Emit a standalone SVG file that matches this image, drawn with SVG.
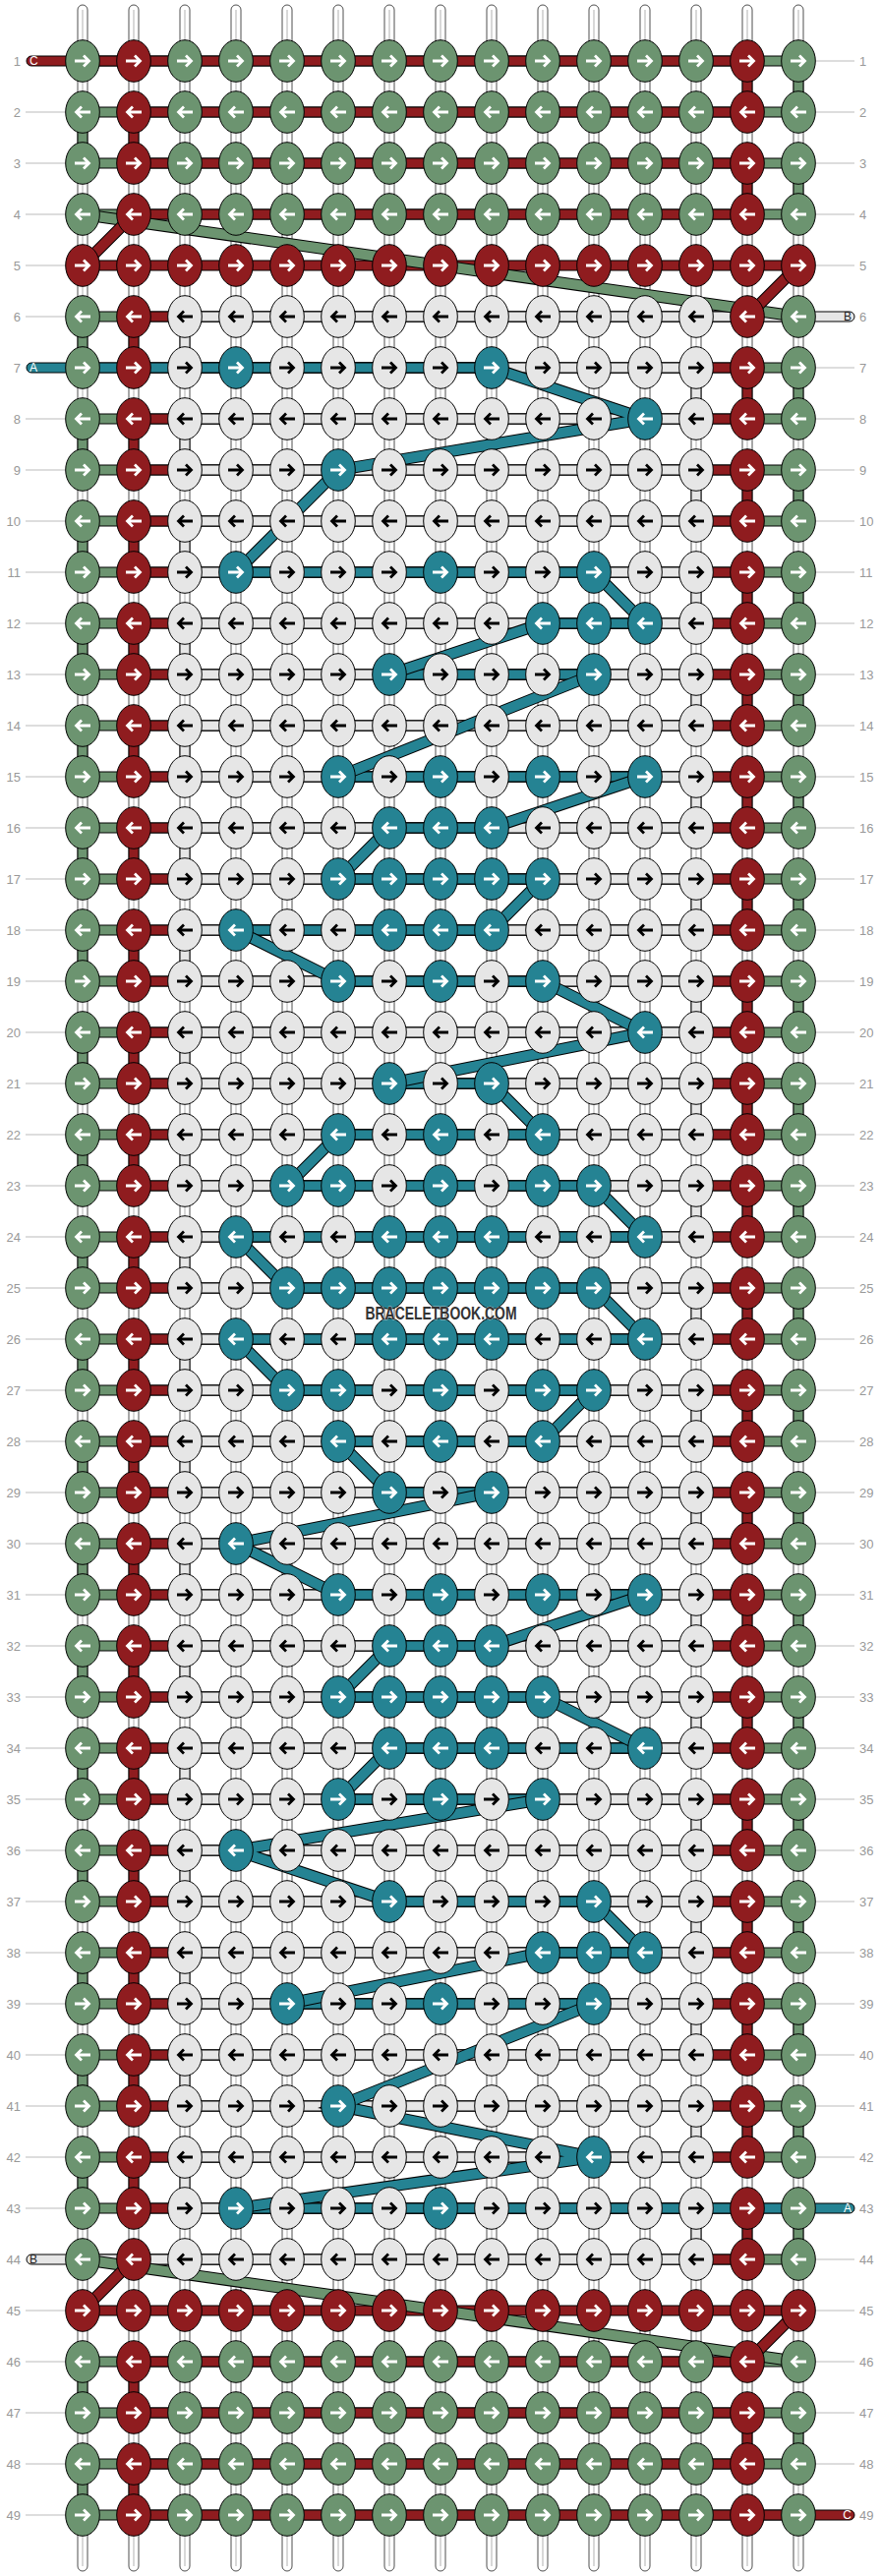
<svg xmlns="http://www.w3.org/2000/svg" width="896" height="2620" viewBox="0 0 896 2620">
<defs>
<style>
.tube{fill:#fff;stroke:#222;stroke-width:0.8}
.tl{fill:none;stroke:#c8c8c8;stroke-width:1.4}
.sg{fill:#6c9470;stroke:#000;stroke-width:1}
.sr{fill:#8f1c1f;stroke:#000;stroke-width:1}
.sw{fill:#e6e6e6;stroke:#000;stroke-width:1}
.st{fill:#258393;stroke:#000;stroke-width:1}
.dk{fill:none;stroke:#000;stroke-width:12;stroke-linecap:butt}
.dg{fill:none;stroke:#6c9470;stroke-width:10}
.dr{fill:none;stroke:#8f1c1f;stroke-width:10}
.dt{fill:none;stroke:#258393;stroke-width:10}
.ar{fill:none;stroke-width:2.8;stroke-linejoin:miter}
.num{font-family:"Liberation Sans",Arial,sans-serif;font-size:13px;fill:#999}
.nl{text-anchor:end}
.ln{fill:none;stroke:#bbb;stroke-width:1}
.tab{font-family:"Liberation Sans",Arial,sans-serif;font-size:12px}
</style>
<path id="aR" class="ar" d="M-8,0H6M1,-5.5L6.5,0L1,5.5"/>
<path id="aL" class="ar" d="M8,0H-6M-1,-5.5L-6.5,0L-1,5.5"/>
<g id="gr"><ellipse rx="17.3" ry="21.3" fill="#6c9470" stroke="#000"/><use href="#aR" stroke="#fff"/></g>
<g id="gl"><ellipse rx="17.3" ry="21.3" fill="#6c9470" stroke="#000"/><use href="#aL" stroke="#fff"/></g>
<g id="rr"><ellipse rx="17.3" ry="21.3" fill="#8f1c1f" stroke="#000"/><use href="#aR" stroke="#fff"/></g>
<g id="rl"><ellipse rx="17.3" ry="21.3" fill="#8f1c1f" stroke="#000"/><use href="#aL" stroke="#fff"/></g>
<g id="wr"><ellipse rx="17.3" ry="21.3" fill="#e6e6e6" stroke="#000"/><use href="#aR" stroke="#000"/></g>
<g id="wl"><ellipse rx="17.3" ry="21.3" fill="#e6e6e6" stroke="#000"/><use href="#aL" stroke="#000"/></g>
<g id="tr"><ellipse rx="17.3" ry="21.3" fill="#258393" stroke="#000"/><use href="#aR" stroke="#fff"/></g>
<g id="tl"><ellipse rx="17.3" ry="21.3" fill="#258393" stroke="#000"/><use href="#aL" stroke="#fff"/></g>
</defs>
<rect width="896" height="2620" fill="#fff"/>
<g id="row-labels">
<path class="ln" d="M26,114H66M26,166H66M26,218H66M26,270H66M26,322H66M26,426H66M26,478H66M26,530H66M26,582H66M26,634H66M26,686H66M26,738H66M26,790H66M26,842H66M26,894H66M26,946H66M26,998H66M26,1050H66M26,1102H66M26,1154H66M26,1206H66M26,1258H66M26,1310H66M26,1362H66M26,1414H66M26,1466H66M26,1518H66M26,1570H66M26,1622H66M26,1674H66M26,1726H66M26,1778H66M26,1830H66M26,1882H66M26,1934H66M26,1986H66M26,2038H66M26,2090H66M26,2142H66M26,2194H66M26,2246H66M26,2350H66M26,2402H66M26,2454H66M26,2506H66M26,2558H66"/>
<path class="ln" d="M830,62H869M830,114H869M830,166H869M830,218H869M830,270H869M830,374H869M830,426H869M830,478H869M830,530H869M830,582H869M830,634H869M830,686H869M830,738H869M830,790H869M830,842H869M830,894H869M830,946H869M830,998H869M830,1050H869M830,1102H869M830,1154H869M830,1206H869M830,1258H869M830,1310H869M830,1362H869M830,1414H869M830,1466H869M830,1518H869M830,1570H869M830,1622H869M830,1674H869M830,1726H869M830,1778H869M830,1830H869M830,1882H869M830,1934H869M830,1986H869M830,2038H869M830,2090H869M830,2142H869M830,2194H869M830,2298H869M830,2350H869M830,2402H869M830,2454H869M830,2506H869"/>
<g class="num nl">
<text x="21" y="67">1</text><text x="21" y="119">2</text><text x="21" y="171">3</text><text x="21" y="223">4</text><text x="21" y="275">5</text><text x="21" y="327">6</text><text x="21" y="379">7</text><text x="21" y="431">8</text><text x="21" y="483">9</text><text x="21" y="535">10</text><text x="21" y="587">11</text><text x="21" y="639">12</text><text x="21" y="691">13</text><text x="21" y="743">14</text><text x="21" y="795">15</text><text x="21" y="847">16</text><text x="21" y="899">17</text><text x="21" y="951">18</text><text x="21" y="1003">19</text><text x="21" y="1055">20</text><text x="21" y="1107">21</text><text x="21" y="1159">22</text><text x="21" y="1211">23</text><text x="21" y="1263">24</text><text x="21" y="1315">25</text><text x="21" y="1367">26</text><text x="21" y="1419">27</text><text x="21" y="1471">28</text><text x="21" y="1523">29</text><text x="21" y="1575">30</text><text x="21" y="1627">31</text><text x="21" y="1679">32</text><text x="21" y="1731">33</text><text x="21" y="1783">34</text><text x="21" y="1835">35</text><text x="21" y="1887">36</text><text x="21" y="1939">37</text><text x="21" y="1991">38</text><text x="21" y="2043">39</text><text x="21" y="2095">40</text><text x="21" y="2147">41</text><text x="21" y="2199">42</text><text x="21" y="2251">43</text><text x="21" y="2303">44</text><text x="21" y="2355">45</text><text x="21" y="2407">46</text><text x="21" y="2459">47</text><text x="21" y="2511">48</text><text x="21" y="2563">49</text>
</g>
<g class="num">
<text x="874" y="67">1</text><text x="874" y="119">2</text><text x="874" y="171">3</text><text x="874" y="223">4</text><text x="874" y="275">5</text><text x="874" y="327">6</text><text x="874" y="379">7</text><text x="874" y="431">8</text><text x="874" y="483">9</text><text x="874" y="535">10</text><text x="874" y="587">11</text><text x="874" y="639">12</text><text x="874" y="691">13</text><text x="874" y="743">14</text><text x="874" y="795">15</text><text x="874" y="847">16</text><text x="874" y="899">17</text><text x="874" y="951">18</text><text x="874" y="1003">19</text><text x="874" y="1055">20</text><text x="874" y="1107">21</text><text x="874" y="1159">22</text><text x="874" y="1211">23</text><text x="874" y="1263">24</text><text x="874" y="1315">25</text><text x="874" y="1367">26</text><text x="874" y="1419">27</text><text x="874" y="1471">28</text><text x="874" y="1523">29</text><text x="874" y="1575">30</text><text x="874" y="1627">31</text><text x="874" y="1679">32</text><text x="874" y="1731">33</text><text x="874" y="1783">34</text><text x="874" y="1835">35</text><text x="874" y="1887">36</text><text x="874" y="1939">37</text><text x="874" y="1991">38</text><text x="874" y="2043">39</text><text x="874" y="2095">40</text><text x="874" y="2147">41</text><text x="874" y="2199">42</text><text x="874" y="2251">43</text><text x="874" y="2303">44</text><text x="874" y="2355">45</text><text x="874" y="2407">46</text><text x="874" y="2459">47</text><text x="874" y="2511">48</text><text x="874" y="2563">49</text>
</g>
</g>
<g id="connectors">
<g id="base-strings">
<rect class="tube" x="79" y="5" width="10" height="2610" rx="5"/><rect class="tube" x="131" y="5" width="10" height="2610" rx="5"/><rect class="tube" x="183" y="5" width="10" height="2610" rx="5"/><rect class="tube" x="235" y="5" width="10" height="2610" rx="5"/><rect class="tube" x="287" y="5" width="10" height="2610" rx="5"/><rect class="tube" x="339" y="5" width="10" height="2610" rx="5"/><rect class="tube" x="391" y="5" width="10" height="2610" rx="5"/><rect class="tube" x="443" y="5" width="10" height="2610" rx="5"/><rect class="tube" x="495" y="5" width="10" height="2610" rx="5"/><rect class="tube" x="547" y="5" width="10" height="2610" rx="5"/><rect class="tube" x="599" y="5" width="10" height="2610" rx="5"/><rect class="tube" x="651" y="5" width="10" height="2610" rx="5"/><rect class="tube" x="703" y="5" width="10" height="2610" rx="5"/><rect class="tube" x="755" y="5" width="10" height="2610" rx="5"/><rect class="tube" x="807" y="5" width="10" height="2610" rx="5"/>
<path class="tl" d="M84,10V2610M136,10V2610M188,10V2610M240,10V2610M292,10V2610M344,10V2610M396,10V2610M448,10V2610M500,10V2610M552,10V2610M604,10V2610M656,10V2610M708,10V2610M760,10V2610M812,10V2610"/>
</g>
<g id="green-string">
<path class="sg" d="M84,57h728v10h-728zM84,109h728v10h-728zM84,161h728v10h-728zM84,213h728v10h-728zM84,317h728v10h-728zM84,369h728v10h-728zM84,421h728v10h-728zM84,473h728v10h-728zM84,525h728v10h-728zM84,577h728v10h-728zM84,629h728v10h-728zM84,681h728v10h-728zM84,733h728v10h-728zM84,785h728v10h-728zM84,837h728v10h-728zM84,889h728v10h-728zM84,941h728v10h-728zM84,993h728v10h-728zM84,1045h728v10h-728zM84,1097h728v10h-728zM84,1149h728v10h-728zM84,1201h728v10h-728zM84,1253h728v10h-728zM84,1305h728v10h-728zM84,1357h728v10h-728zM84,1409h728v10h-728zM84,1461h728v10h-728zM84,1513h728v10h-728zM84,1565h728v10h-728zM84,1617h728v10h-728zM84,1669h728v10h-728zM84,1721h728v10h-728zM84,1773h728v10h-728zM84,1825h728v10h-728zM84,1877h728v10h-728zM84,1929h728v10h-728zM84,1981h728v10h-728zM84,2033h728v10h-728zM84,2085h728v10h-728zM84,2137h728v10h-728zM84,2189h728v10h-728zM84,2241h728v10h-728zM84,2293h728v10h-728zM84,2397h728v10h-728zM84,2449h728v10h-728zM84,2501h728v10h-728zM84,2553h728v10h-728z"/>
<path class="sg" d="M79,114h10v52h-10zM79,322h10v52h-10zM79,426h10v52h-10zM79,530h10v52h-10zM79,634h10v52h-10zM79,738h10v52h-10zM79,842h10v52h-10zM79,946h10v52h-10zM79,1050h10v52h-10zM79,1154h10v52h-10zM79,1258h10v52h-10zM79,1362h10v52h-10zM79,1466h10v52h-10zM79,1570h10v52h-10zM79,1674h10v52h-10zM79,1778h10v52h-10zM79,1882h10v52h-10zM79,1986h10v52h-10zM79,2090h10v52h-10zM79,2194h10v52h-10zM79,2402h10v52h-10zM79,2506h10v52h-10z"/>
<path class="sg" d="M807,62h10v52h-10zM807,166h10v52h-10zM807,374h10v52h-10zM807,478h10v52h-10zM807,582h10v52h-10zM807,686h10v52h-10zM807,790h10v52h-10zM807,894h10v52h-10zM807,998h10v52h-10zM807,1102h10v52h-10zM807,1206h10v52h-10zM807,1310h10v52h-10zM807,1414h10v52h-10zM807,1518h10v52h-10zM807,1622h10v52h-10zM807,1726h10v52h-10zM807,1830h10v52h-10zM807,1934h10v52h-10zM807,2038h10v52h-10zM807,2142h10v52h-10zM807,2246h10v52h-10zM807,2454h10v52h-10z"/>
</g>
<g id="red-string">
<rect class="sr" x="27" y="57" width="733" height="10" rx="5"/>
<rect class="sr" x="136" y="2553" width="733" height="10" rx="5"/>
<path class="sr" d="M136,109h624v10h-624zM136,161h624v10h-624zM136,213h624v10h-624zM84,265h728v10h-728zM136,317h624v10h-624zM136,369h624v10h-624zM136,421h624v10h-624zM136,473h624v10h-624zM136,525h624v10h-624zM136,577h624v10h-624zM136,629h624v10h-624zM136,681h624v10h-624zM136,733h624v10h-624zM136,785h624v10h-624zM136,837h624v10h-624zM136,889h624v10h-624zM136,941h624v10h-624zM136,993h624v10h-624zM136,1045h624v10h-624zM136,1097h624v10h-624zM136,1149h624v10h-624zM136,1201h624v10h-624zM136,1253h624v10h-624zM136,1305h624v10h-624zM136,1357h624v10h-624zM136,1409h624v10h-624zM136,1461h624v10h-624zM136,1513h624v10h-624zM136,1565h624v10h-624zM136,1617h624v10h-624zM136,1669h624v10h-624zM136,1721h624v10h-624zM136,1773h624v10h-624zM136,1825h624v10h-624zM136,1877h624v10h-624zM136,1929h624v10h-624zM136,1981h624v10h-624zM136,2033h624v10h-624zM136,2085h624v10h-624zM136,2137h624v10h-624zM136,2189h624v10h-624zM136,2241h624v10h-624zM136,2293h624v10h-624zM84,2345h728v10h-728zM136,2397h624v10h-624zM136,2449h624v10h-624zM136,2501h624v10h-624z"/>
<path class="sr" d="M131,114h10v52h-10zM131,322h10v52h-10zM131,426h10v52h-10zM131,530h10v52h-10zM131,634h10v52h-10zM131,738h10v52h-10zM131,842h10v52h-10zM131,946h10v52h-10zM131,1050h10v52h-10zM131,1154h10v52h-10zM131,1258h10v52h-10zM131,1362h10v52h-10zM131,1466h10v52h-10zM131,1570h10v52h-10zM131,1674h10v52h-10zM131,1778h10v52h-10zM131,1882h10v52h-10zM131,1986h10v52h-10zM131,2090h10v52h-10zM131,2194h10v52h-10zM131,2402h10v52h-10zM131,2506h10v52h-10z"/>
<path class="sr" d="M755,62h10v52h-10zM755,166h10v52h-10zM755,374h10v52h-10zM755,478h10v52h-10zM755,582h10v52h-10zM755,686h10v52h-10zM755,790h10v52h-10zM755,894h10v52h-10zM755,998h10v52h-10zM755,1102h10v52h-10zM755,1206h10v52h-10zM755,1310h10v52h-10zM755,1414h10v52h-10zM755,1518h10v52h-10zM755,1622h10v52h-10zM755,1726h10v52h-10zM755,1830h10v52h-10zM755,1934h10v52h-10zM755,2038h10v52h-10zM755,2142h10v52h-10zM755,2246h10v52h-10zM755,2454h10v52h-10z"/>
</g>
<g id="string-B">
<rect class="sw" x="188" y="317" width="681" height="10" rx="5"/>
<rect class="sw" x="27" y="2293" width="681" height="10" rx="5"/>
<path class="sw" d="M188,369h520v10h-520zM188,421h520v10h-520zM188,473h520v10h-520zM188,525h520v10h-520zM188,577h520v10h-520zM188,629h520v10h-520zM188,681h520v10h-520zM188,733h520v10h-520zM188,785h520v10h-520zM188,837h520v10h-520zM188,889h520v10h-520zM188,941h520v10h-520zM188,993h520v10h-520zM188,1045h520v10h-520zM188,1097h520v10h-520zM188,1149h520v10h-520zM188,1201h520v10h-520zM188,1253h520v10h-520zM188,1305h520v10h-520zM188,1357h520v10h-520zM188,1409h520v10h-520zM188,1461h520v10h-520zM188,1513h520v10h-520zM188,1565h520v10h-520zM188,1617h520v10h-520zM188,1669h520v10h-520zM188,1721h520v10h-520zM188,1773h520v10h-520zM188,1825h520v10h-520zM188,1877h520v10h-520zM188,1929h520v10h-520zM188,1981h520v10h-520zM188,2033h520v10h-520zM188,2085h520v10h-520zM188,2137h520v10h-520zM188,2189h520v10h-520zM188,2241h520v10h-520z"/>
<path class="sw" d="M183,322h10v52h-10zM183,426h10v52h-10zM183,530h10v52h-10zM183,634h10v52h-10zM183,738h10v52h-10zM183,842h10v52h-10zM183,946h10v52h-10zM183,1050h10v52h-10zM183,1154h10v52h-10zM183,1258h10v52h-10zM183,1362h10v52h-10zM183,1466h10v52h-10zM183,1570h10v52h-10zM183,1674h10v52h-10zM183,1778h10v52h-10zM183,1882h10v52h-10zM183,1986h10v52h-10zM183,2090h10v52h-10zM183,2194h10v52h-10z"/>
<path class="sw" d="M703,374h10v52h-10zM703,478h10v52h-10zM703,582h10v52h-10zM703,686h10v52h-10zM703,790h10v52h-10zM703,894h10v52h-10zM703,998h10v52h-10zM703,1102h10v52h-10zM703,1206h10v52h-10zM703,1310h10v52h-10zM703,1414h10v52h-10zM703,1518h10v52h-10zM703,1622h10v52h-10zM703,1726h10v52h-10zM703,1830h10v52h-10zM703,1934h10v52h-10zM703,2038h10v52h-10zM703,2142h10v52h-10zM703,2246h10v52h-10z"/>
</g>
<g id="string-A">
<rect class="st" x="27" y="369" width="473" height="10" rx="5"/>
<rect class="st" x="240" y="2241" width="629" height="10" rx="5"/>
<path class="st" d="M240,577h364v10h-364zM552,629h104v10h-104zM396,681h208v10h-208zM344,785h312v10h-312zM396,837h104v10h-104zM344,889h208v10h-208zM240,941h260v10h-260zM344,993h208v10h-208zM396,1097h104v10h-104zM344,1149h208v10h-208zM292,1201h312v10h-312zM240,1253h416v10h-416zM292,1305h312v10h-312zM240,1357h416v10h-416zM292,1409h312v10h-312zM344,1461h208v10h-208zM396,1513h104v10h-104zM344,1617h312v10h-312zM396,1669h104v10h-104zM344,1721h208v10h-208zM396,1773h260v10h-260zM344,1825h208v10h-208zM396,1929h208v10h-208zM552,1981h104v10h-104zM292,2033h312v10h-312z"/>
</g>
<g id="diagonals">
<path class="dk" d="M84,218L812,322M84,2298L812,2402"/>
<path class="dg" d="M84,218L812,322M84,2298L812,2402"/>
<path class="dk" d="M136,218L84,270M812,270L760,322M136,2298L84,2350M812,2350L760,2402"/>
<path class="dr" d="M136,218L84,270M812,270L760,322M136,2298L84,2350M812,2350L760,2402"/>
<path class="dk" d="M500,374L656,426L344,478L240,582M604,582L656,634M552,634L396,686M604,686L344,790M656,790L500,842M396,842L344,894M552,894L500,946M240,946L344,998M552,998L656,1050L396,1102M500,1102L552,1154M344,1154L292,1206M604,1206L656,1258M240,1258L292,1310M604,1310L656,1362M240,1362L292,1414M604,1414L552,1466M344,1466L396,1518M500,1518L240,1570L344,1622M656,1622L500,1674M396,1674L344,1726M552,1726L656,1778M396,1778L344,1830M552,1830L240,1882L396,1934M604,1934L656,1986M552,1986L292,2038M604,2038L344,2142L604,2194L240,2246"/>
<path class="dt" d="M500,374L656,426L344,478L240,582M604,582L656,634M552,634L396,686M604,686L344,790M656,790L500,842M396,842L344,894M552,894L500,946M240,946L344,998M552,998L656,1050L396,1102M500,1102L552,1154M344,1154L292,1206M604,1206L656,1258M240,1258L292,1310M604,1310L656,1362M240,1362L292,1414M604,1414L552,1466M344,1466L396,1518M500,1518L240,1570L344,1622M656,1622L500,1674M396,1674L344,1726M552,1726L656,1778M396,1778L344,1830M552,1830L240,1882L396,1934M604,1934L656,1986M552,1986L292,2038M604,2038L344,2142L604,2194L240,2246"/>
</g>
</g>
<g id="knots">
<g id="row1" transform="translate(0,62)"><use href="#gr" x="84"/><use href="#rr" x="136"/><use href="#gr" x="188"/><use href="#gr" x="240"/><use href="#gr" x="292"/><use href="#gr" x="344"/><use href="#gr" x="396"/><use href="#gr" x="448"/><use href="#gr" x="500"/><use href="#gr" x="552"/><use href="#gr" x="604"/><use href="#gr" x="656"/><use href="#gr" x="708"/><use href="#rr" x="760"/><use href="#gr" x="812"/></g>
<g id="row2" transform="translate(0,114)"><use href="#gl" x="84"/><use href="#rl" x="136"/><use href="#gl" x="188"/><use href="#gl" x="240"/><use href="#gl" x="292"/><use href="#gl" x="344"/><use href="#gl" x="396"/><use href="#gl" x="448"/><use href="#gl" x="500"/><use href="#gl" x="552"/><use href="#gl" x="604"/><use href="#gl" x="656"/><use href="#gl" x="708"/><use href="#rl" x="760"/><use href="#gl" x="812"/></g>
<g id="row3" transform="translate(0,166)"><use href="#gr" x="84"/><use href="#rr" x="136"/><use href="#gr" x="188"/><use href="#gr" x="240"/><use href="#gr" x="292"/><use href="#gr" x="344"/><use href="#gr" x="396"/><use href="#gr" x="448"/><use href="#gr" x="500"/><use href="#gr" x="552"/><use href="#gr" x="604"/><use href="#gr" x="656"/><use href="#gr" x="708"/><use href="#rr" x="760"/><use href="#gr" x="812"/></g>
<g id="row4" transform="translate(0,218)"><use href="#gl" x="84"/><use href="#rl" x="136"/><use href="#gl" x="188"/><use href="#gl" x="240"/><use href="#gl" x="292"/><use href="#gl" x="344"/><use href="#gl" x="396"/><use href="#gl" x="448"/><use href="#gl" x="500"/><use href="#gl" x="552"/><use href="#gl" x="604"/><use href="#gl" x="656"/><use href="#gl" x="708"/><use href="#rl" x="760"/><use href="#gl" x="812"/></g>
<g id="row5" transform="translate(0,270)"><use href="#rr" x="84"/><use href="#rr" x="136"/><use href="#rr" x="188"/><use href="#rr" x="240"/><use href="#rr" x="292"/><use href="#rr" x="344"/><use href="#rr" x="396"/><use href="#rr" x="448"/><use href="#rr" x="500"/><use href="#rr" x="552"/><use href="#rr" x="604"/><use href="#rr" x="656"/><use href="#rr" x="708"/><use href="#rr" x="760"/><use href="#rr" x="812"/></g>
<g id="row6" transform="translate(0,322)"><use href="#gl" x="84"/><use href="#rl" x="136"/><use href="#wl" x="188"/><use href="#wl" x="240"/><use href="#wl" x="292"/><use href="#wl" x="344"/><use href="#wl" x="396"/><use href="#wl" x="448"/><use href="#wl" x="500"/><use href="#wl" x="552"/><use href="#wl" x="604"/><use href="#wl" x="656"/><use href="#wl" x="708"/><use href="#rl" x="760"/><use href="#gl" x="812"/></g>
<g id="row7" transform="translate(0,374)"><use href="#gr" x="84"/><use href="#rr" x="136"/><use href="#wr" x="188"/><use href="#tr" x="240"/><use href="#wr" x="292"/><use href="#wr" x="344"/><use href="#wr" x="396"/><use href="#wr" x="448"/><use href="#tr" x="500"/><use href="#wr" x="552"/><use href="#wr" x="604"/><use href="#wr" x="656"/><use href="#wr" x="708"/><use href="#rr" x="760"/><use href="#gr" x="812"/></g>
<g id="row8" transform="translate(0,426)"><use href="#gl" x="84"/><use href="#rl" x="136"/><use href="#wl" x="188"/><use href="#wl" x="240"/><use href="#wl" x="292"/><use href="#wl" x="344"/><use href="#wl" x="396"/><use href="#wl" x="448"/><use href="#wl" x="500"/><use href="#wl" x="552"/><use href="#wl" x="604"/><use href="#tl" x="656"/><use href="#wl" x="708"/><use href="#rl" x="760"/><use href="#gl" x="812"/></g>
<g id="row9" transform="translate(0,478)"><use href="#gr" x="84"/><use href="#rr" x="136"/><use href="#wr" x="188"/><use href="#wr" x="240"/><use href="#wr" x="292"/><use href="#tr" x="344"/><use href="#wr" x="396"/><use href="#wr" x="448"/><use href="#wr" x="500"/><use href="#wr" x="552"/><use href="#wr" x="604"/><use href="#wr" x="656"/><use href="#wr" x="708"/><use href="#rr" x="760"/><use href="#gr" x="812"/></g>
<g id="row10" transform="translate(0,530)"><use href="#gl" x="84"/><use href="#rl" x="136"/><use href="#wl" x="188"/><use href="#wl" x="240"/><use href="#wl" x="292"/><use href="#wl" x="344"/><use href="#wl" x="396"/><use href="#wl" x="448"/><use href="#wl" x="500"/><use href="#wl" x="552"/><use href="#wl" x="604"/><use href="#wl" x="656"/><use href="#wl" x="708"/><use href="#rl" x="760"/><use href="#gl" x="812"/></g>
<g id="row11" transform="translate(0,582)"><use href="#gr" x="84"/><use href="#rr" x="136"/><use href="#wr" x="188"/><use href="#tr" x="240"/><use href="#wr" x="292"/><use href="#wr" x="344"/><use href="#wr" x="396"/><use href="#tr" x="448"/><use href="#wr" x="500"/><use href="#wr" x="552"/><use href="#tr" x="604"/><use href="#wr" x="656"/><use href="#wr" x="708"/><use href="#rr" x="760"/><use href="#gr" x="812"/></g>
<g id="row12" transform="translate(0,634)"><use href="#gl" x="84"/><use href="#rl" x="136"/><use href="#wl" x="188"/><use href="#wl" x="240"/><use href="#wl" x="292"/><use href="#wl" x="344"/><use href="#wl" x="396"/><use href="#wl" x="448"/><use href="#wl" x="500"/><use href="#tl" x="552"/><use href="#tl" x="604"/><use href="#tl" x="656"/><use href="#wl" x="708"/><use href="#rl" x="760"/><use href="#gl" x="812"/></g>
<g id="row13" transform="translate(0,686)"><use href="#gr" x="84"/><use href="#rr" x="136"/><use href="#wr" x="188"/><use href="#wr" x="240"/><use href="#wr" x="292"/><use href="#wr" x="344"/><use href="#tr" x="396"/><use href="#wr" x="448"/><use href="#wr" x="500"/><use href="#wr" x="552"/><use href="#tr" x="604"/><use href="#wr" x="656"/><use href="#wr" x="708"/><use href="#rr" x="760"/><use href="#gr" x="812"/></g>
<g id="row14" transform="translate(0,738)"><use href="#gl" x="84"/><use href="#rl" x="136"/><use href="#wl" x="188"/><use href="#wl" x="240"/><use href="#wl" x="292"/><use href="#wl" x="344"/><use href="#wl" x="396"/><use href="#wl" x="448"/><use href="#wl" x="500"/><use href="#wl" x="552"/><use href="#wl" x="604"/><use href="#wl" x="656"/><use href="#wl" x="708"/><use href="#rl" x="760"/><use href="#gl" x="812"/></g>
<g id="row15" transform="translate(0,790)"><use href="#gr" x="84"/><use href="#rr" x="136"/><use href="#wr" x="188"/><use href="#wr" x="240"/><use href="#wr" x="292"/><use href="#tr" x="344"/><use href="#wr" x="396"/><use href="#tr" x="448"/><use href="#wr" x="500"/><use href="#tr" x="552"/><use href="#wr" x="604"/><use href="#tr" x="656"/><use href="#wr" x="708"/><use href="#rr" x="760"/><use href="#gr" x="812"/></g>
<g id="row16" transform="translate(0,842)"><use href="#gl" x="84"/><use href="#rl" x="136"/><use href="#wl" x="188"/><use href="#wl" x="240"/><use href="#wl" x="292"/><use href="#wl" x="344"/><use href="#tl" x="396"/><use href="#tl" x="448"/><use href="#tl" x="500"/><use href="#wl" x="552"/><use href="#wl" x="604"/><use href="#wl" x="656"/><use href="#wl" x="708"/><use href="#rl" x="760"/><use href="#gl" x="812"/></g>
<g id="row17" transform="translate(0,894)"><use href="#gr" x="84"/><use href="#rr" x="136"/><use href="#wr" x="188"/><use href="#wr" x="240"/><use href="#wr" x="292"/><use href="#tr" x="344"/><use href="#tr" x="396"/><use href="#tr" x="448"/><use href="#tr" x="500"/><use href="#tr" x="552"/><use href="#wr" x="604"/><use href="#wr" x="656"/><use href="#wr" x="708"/><use href="#rr" x="760"/><use href="#gr" x="812"/></g>
<g id="row18" transform="translate(0,946)"><use href="#gl" x="84"/><use href="#rl" x="136"/><use href="#wl" x="188"/><use href="#tl" x="240"/><use href="#wl" x="292"/><use href="#wl" x="344"/><use href="#tl" x="396"/><use href="#tl" x="448"/><use href="#tl" x="500"/><use href="#wl" x="552"/><use href="#wl" x="604"/><use href="#wl" x="656"/><use href="#wl" x="708"/><use href="#rl" x="760"/><use href="#gl" x="812"/></g>
<g id="row19" transform="translate(0,998)"><use href="#gr" x="84"/><use href="#rr" x="136"/><use href="#wr" x="188"/><use href="#wr" x="240"/><use href="#wr" x="292"/><use href="#tr" x="344"/><use href="#wr" x="396"/><use href="#tr" x="448"/><use href="#wr" x="500"/><use href="#tr" x="552"/><use href="#wr" x="604"/><use href="#wr" x="656"/><use href="#wr" x="708"/><use href="#rr" x="760"/><use href="#gr" x="812"/></g>
<g id="row20" transform="translate(0,1050)"><use href="#gl" x="84"/><use href="#rl" x="136"/><use href="#wl" x="188"/><use href="#wl" x="240"/><use href="#wl" x="292"/><use href="#wl" x="344"/><use href="#wl" x="396"/><use href="#wl" x="448"/><use href="#wl" x="500"/><use href="#wl" x="552"/><use href="#wl" x="604"/><use href="#tl" x="656"/><use href="#wl" x="708"/><use href="#rl" x="760"/><use href="#gl" x="812"/></g>
<g id="row21" transform="translate(0,1102)"><use href="#gr" x="84"/><use href="#rr" x="136"/><use href="#wr" x="188"/><use href="#wr" x="240"/><use href="#wr" x="292"/><use href="#wr" x="344"/><use href="#tr" x="396"/><use href="#wr" x="448"/><use href="#tr" x="500"/><use href="#wr" x="552"/><use href="#wr" x="604"/><use href="#wr" x="656"/><use href="#wr" x="708"/><use href="#rr" x="760"/><use href="#gr" x="812"/></g>
<g id="row22" transform="translate(0,1154)"><use href="#gl" x="84"/><use href="#rl" x="136"/><use href="#wl" x="188"/><use href="#wl" x="240"/><use href="#wl" x="292"/><use href="#tl" x="344"/><use href="#wl" x="396"/><use href="#tl" x="448"/><use href="#wl" x="500"/><use href="#tl" x="552"/><use href="#wl" x="604"/><use href="#wl" x="656"/><use href="#wl" x="708"/><use href="#rl" x="760"/><use href="#gl" x="812"/></g>
<g id="row23" transform="translate(0,1206)"><use href="#gr" x="84"/><use href="#rr" x="136"/><use href="#wr" x="188"/><use href="#wr" x="240"/><use href="#tr" x="292"/><use href="#tr" x="344"/><use href="#wr" x="396"/><use href="#tr" x="448"/><use href="#wr" x="500"/><use href="#tr" x="552"/><use href="#tr" x="604"/><use href="#wr" x="656"/><use href="#wr" x="708"/><use href="#rr" x="760"/><use href="#gr" x="812"/></g>
<g id="row24" transform="translate(0,1258)"><use href="#gl" x="84"/><use href="#rl" x="136"/><use href="#wl" x="188"/><use href="#tl" x="240"/><use href="#wl" x="292"/><use href="#wl" x="344"/><use href="#tl" x="396"/><use href="#tl" x="448"/><use href="#tl" x="500"/><use href="#wl" x="552"/><use href="#wl" x="604"/><use href="#tl" x="656"/><use href="#wl" x="708"/><use href="#rl" x="760"/><use href="#gl" x="812"/></g>
<g id="row25" transform="translate(0,1310)"><use href="#gr" x="84"/><use href="#rr" x="136"/><use href="#wr" x="188"/><use href="#wr" x="240"/><use href="#tr" x="292"/><use href="#tr" x="344"/><use href="#tr" x="396"/><use href="#tr" x="448"/><use href="#tr" x="500"/><use href="#tr" x="552"/><use href="#tr" x="604"/><use href="#wr" x="656"/><use href="#wr" x="708"/><use href="#rr" x="760"/><use href="#gr" x="812"/></g>
<g id="row26" transform="translate(0,1362)"><use href="#gl" x="84"/><use href="#rl" x="136"/><use href="#wl" x="188"/><use href="#tl" x="240"/><use href="#wl" x="292"/><use href="#wl" x="344"/><use href="#tl" x="396"/><use href="#tl" x="448"/><use href="#tl" x="500"/><use href="#wl" x="552"/><use href="#wl" x="604"/><use href="#tl" x="656"/><use href="#wl" x="708"/><use href="#rl" x="760"/><use href="#gl" x="812"/></g>
<g id="row27" transform="translate(0,1414)"><use href="#gr" x="84"/><use href="#rr" x="136"/><use href="#wr" x="188"/><use href="#wr" x="240"/><use href="#tr" x="292"/><use href="#tr" x="344"/><use href="#wr" x="396"/><use href="#tr" x="448"/><use href="#wr" x="500"/><use href="#tr" x="552"/><use href="#tr" x="604"/><use href="#wr" x="656"/><use href="#wr" x="708"/><use href="#rr" x="760"/><use href="#gr" x="812"/></g>
<g id="row28" transform="translate(0,1466)"><use href="#gl" x="84"/><use href="#rl" x="136"/><use href="#wl" x="188"/><use href="#wl" x="240"/><use href="#wl" x="292"/><use href="#tl" x="344"/><use href="#wl" x="396"/><use href="#tl" x="448"/><use href="#wl" x="500"/><use href="#tl" x="552"/><use href="#wl" x="604"/><use href="#wl" x="656"/><use href="#wl" x="708"/><use href="#rl" x="760"/><use href="#gl" x="812"/></g>
<g id="row29" transform="translate(0,1518)"><use href="#gr" x="84"/><use href="#rr" x="136"/><use href="#wr" x="188"/><use href="#wr" x="240"/><use href="#wr" x="292"/><use href="#wr" x="344"/><use href="#tr" x="396"/><use href="#wr" x="448"/><use href="#tr" x="500"/><use href="#wr" x="552"/><use href="#wr" x="604"/><use href="#wr" x="656"/><use href="#wr" x="708"/><use href="#rr" x="760"/><use href="#gr" x="812"/></g>
<g id="row30" transform="translate(0,1570)"><use href="#gl" x="84"/><use href="#rl" x="136"/><use href="#wl" x="188"/><use href="#tl" x="240"/><use href="#wl" x="292"/><use href="#wl" x="344"/><use href="#wl" x="396"/><use href="#wl" x="448"/><use href="#wl" x="500"/><use href="#wl" x="552"/><use href="#wl" x="604"/><use href="#wl" x="656"/><use href="#wl" x="708"/><use href="#rl" x="760"/><use href="#gl" x="812"/></g>
<g id="row31" transform="translate(0,1622)"><use href="#gr" x="84"/><use href="#rr" x="136"/><use href="#wr" x="188"/><use href="#wr" x="240"/><use href="#wr" x="292"/><use href="#tr" x="344"/><use href="#wr" x="396"/><use href="#tr" x="448"/><use href="#wr" x="500"/><use href="#tr" x="552"/><use href="#wr" x="604"/><use href="#tr" x="656"/><use href="#wr" x="708"/><use href="#rr" x="760"/><use href="#gr" x="812"/></g>
<g id="row32" transform="translate(0,1674)"><use href="#gl" x="84"/><use href="#rl" x="136"/><use href="#wl" x="188"/><use href="#wl" x="240"/><use href="#wl" x="292"/><use href="#wl" x="344"/><use href="#tl" x="396"/><use href="#tl" x="448"/><use href="#tl" x="500"/><use href="#wl" x="552"/><use href="#wl" x="604"/><use href="#wl" x="656"/><use href="#wl" x="708"/><use href="#rl" x="760"/><use href="#gl" x="812"/></g>
<g id="row33" transform="translate(0,1726)"><use href="#gr" x="84"/><use href="#rr" x="136"/><use href="#wr" x="188"/><use href="#wr" x="240"/><use href="#wr" x="292"/><use href="#tr" x="344"/><use href="#tr" x="396"/><use href="#tr" x="448"/><use href="#tr" x="500"/><use href="#tr" x="552"/><use href="#wr" x="604"/><use href="#wr" x="656"/><use href="#wr" x="708"/><use href="#rr" x="760"/><use href="#gr" x="812"/></g>
<g id="row34" transform="translate(0,1778)"><use href="#gl" x="84"/><use href="#rl" x="136"/><use href="#wl" x="188"/><use href="#wl" x="240"/><use href="#wl" x="292"/><use href="#wl" x="344"/><use href="#tl" x="396"/><use href="#tl" x="448"/><use href="#tl" x="500"/><use href="#wl" x="552"/><use href="#wl" x="604"/><use href="#tl" x="656"/><use href="#wl" x="708"/><use href="#rl" x="760"/><use href="#gl" x="812"/></g>
<g id="row35" transform="translate(0,1830)"><use href="#gr" x="84"/><use href="#rr" x="136"/><use href="#wr" x="188"/><use href="#wr" x="240"/><use href="#wr" x="292"/><use href="#tr" x="344"/><use href="#wr" x="396"/><use href="#tr" x="448"/><use href="#wr" x="500"/><use href="#tr" x="552"/><use href="#wr" x="604"/><use href="#wr" x="656"/><use href="#wr" x="708"/><use href="#rr" x="760"/><use href="#gr" x="812"/></g>
<g id="row36" transform="translate(0,1882)"><use href="#gl" x="84"/><use href="#rl" x="136"/><use href="#wl" x="188"/><use href="#tl" x="240"/><use href="#wl" x="292"/><use href="#wl" x="344"/><use href="#wl" x="396"/><use href="#wl" x="448"/><use href="#wl" x="500"/><use href="#wl" x="552"/><use href="#wl" x="604"/><use href="#wl" x="656"/><use href="#wl" x="708"/><use href="#rl" x="760"/><use href="#gl" x="812"/></g>
<g id="row37" transform="translate(0,1934)"><use href="#gr" x="84"/><use href="#rr" x="136"/><use href="#wr" x="188"/><use href="#wr" x="240"/><use href="#wr" x="292"/><use href="#wr" x="344"/><use href="#tr" x="396"/><use href="#wr" x="448"/><use href="#wr" x="500"/><use href="#wr" x="552"/><use href="#tr" x="604"/><use href="#wr" x="656"/><use href="#wr" x="708"/><use href="#rr" x="760"/><use href="#gr" x="812"/></g>
<g id="row38" transform="translate(0,1986)"><use href="#gl" x="84"/><use href="#rl" x="136"/><use href="#wl" x="188"/><use href="#wl" x="240"/><use href="#wl" x="292"/><use href="#wl" x="344"/><use href="#wl" x="396"/><use href="#wl" x="448"/><use href="#wl" x="500"/><use href="#tl" x="552"/><use href="#tl" x="604"/><use href="#tl" x="656"/><use href="#wl" x="708"/><use href="#rl" x="760"/><use href="#gl" x="812"/></g>
<g id="row39" transform="translate(0,2038)"><use href="#gr" x="84"/><use href="#rr" x="136"/><use href="#wr" x="188"/><use href="#wr" x="240"/><use href="#tr" x="292"/><use href="#wr" x="344"/><use href="#wr" x="396"/><use href="#tr" x="448"/><use href="#wr" x="500"/><use href="#wr" x="552"/><use href="#tr" x="604"/><use href="#wr" x="656"/><use href="#wr" x="708"/><use href="#rr" x="760"/><use href="#gr" x="812"/></g>
<g id="row40" transform="translate(0,2090)"><use href="#gl" x="84"/><use href="#rl" x="136"/><use href="#wl" x="188"/><use href="#wl" x="240"/><use href="#wl" x="292"/><use href="#wl" x="344"/><use href="#wl" x="396"/><use href="#wl" x="448"/><use href="#wl" x="500"/><use href="#wl" x="552"/><use href="#wl" x="604"/><use href="#wl" x="656"/><use href="#wl" x="708"/><use href="#rl" x="760"/><use href="#gl" x="812"/></g>
<g id="row41" transform="translate(0,2142)"><use href="#gr" x="84"/><use href="#rr" x="136"/><use href="#wr" x="188"/><use href="#wr" x="240"/><use href="#wr" x="292"/><use href="#tr" x="344"/><use href="#wr" x="396"/><use href="#wr" x="448"/><use href="#wr" x="500"/><use href="#wr" x="552"/><use href="#wr" x="604"/><use href="#wr" x="656"/><use href="#wr" x="708"/><use href="#rr" x="760"/><use href="#gr" x="812"/></g>
<g id="row42" transform="translate(0,2194)"><use href="#gl" x="84"/><use href="#rl" x="136"/><use href="#wl" x="188"/><use href="#wl" x="240"/><use href="#wl" x="292"/><use href="#wl" x="344"/><use href="#wl" x="396"/><use href="#wl" x="448"/><use href="#wl" x="500"/><use href="#wl" x="552"/><use href="#tl" x="604"/><use href="#wl" x="656"/><use href="#wl" x="708"/><use href="#rl" x="760"/><use href="#gl" x="812"/></g>
<g id="row43" transform="translate(0,2246)"><use href="#gr" x="84"/><use href="#rr" x="136"/><use href="#wr" x="188"/><use href="#tr" x="240"/><use href="#wr" x="292"/><use href="#wr" x="344"/><use href="#wr" x="396"/><use href="#tr" x="448"/><use href="#wr" x="500"/><use href="#wr" x="552"/><use href="#wr" x="604"/><use href="#wr" x="656"/><use href="#wr" x="708"/><use href="#rr" x="760"/><use href="#gr" x="812"/></g>
<g id="row44" transform="translate(0,2298)"><use href="#gl" x="84"/><use href="#rl" x="136"/><use href="#wl" x="188"/><use href="#wl" x="240"/><use href="#wl" x="292"/><use href="#wl" x="344"/><use href="#wl" x="396"/><use href="#wl" x="448"/><use href="#wl" x="500"/><use href="#wl" x="552"/><use href="#wl" x="604"/><use href="#wl" x="656"/><use href="#wl" x="708"/><use href="#rl" x="760"/><use href="#gl" x="812"/></g>
<g id="row45" transform="translate(0,2350)"><use href="#rr" x="84"/><use href="#rr" x="136"/><use href="#rr" x="188"/><use href="#rr" x="240"/><use href="#rr" x="292"/><use href="#rr" x="344"/><use href="#rr" x="396"/><use href="#rr" x="448"/><use href="#rr" x="500"/><use href="#rr" x="552"/><use href="#rr" x="604"/><use href="#rr" x="656"/><use href="#rr" x="708"/><use href="#rr" x="760"/><use href="#rr" x="812"/></g>
<g id="row46" transform="translate(0,2402)"><use href="#gl" x="84"/><use href="#rl" x="136"/><use href="#gl" x="188"/><use href="#gl" x="240"/><use href="#gl" x="292"/><use href="#gl" x="344"/><use href="#gl" x="396"/><use href="#gl" x="448"/><use href="#gl" x="500"/><use href="#gl" x="552"/><use href="#gl" x="604"/><use href="#gl" x="656"/><use href="#gl" x="708"/><use href="#rl" x="760"/><use href="#gl" x="812"/></g>
<g id="row47" transform="translate(0,2454)"><use href="#gr" x="84"/><use href="#rr" x="136"/><use href="#gr" x="188"/><use href="#gr" x="240"/><use href="#gr" x="292"/><use href="#gr" x="344"/><use href="#gr" x="396"/><use href="#gr" x="448"/><use href="#gr" x="500"/><use href="#gr" x="552"/><use href="#gr" x="604"/><use href="#gr" x="656"/><use href="#gr" x="708"/><use href="#rr" x="760"/><use href="#gr" x="812"/></g>
<g id="row48" transform="translate(0,2506)"><use href="#gl" x="84"/><use href="#rl" x="136"/><use href="#gl" x="188"/><use href="#gl" x="240"/><use href="#gl" x="292"/><use href="#gl" x="344"/><use href="#gl" x="396"/><use href="#gl" x="448"/><use href="#gl" x="500"/><use href="#gl" x="552"/><use href="#gl" x="604"/><use href="#gl" x="656"/><use href="#gl" x="708"/><use href="#rl" x="760"/><use href="#gl" x="812"/></g>
<g id="row49" transform="translate(0,2558)"><use href="#gr" x="84"/><use href="#rr" x="136"/><use href="#gr" x="188"/><use href="#gr" x="240"/><use href="#gr" x="292"/><use href="#gr" x="344"/><use href="#gr" x="396"/><use href="#gr" x="448"/><use href="#gr" x="500"/><use href="#gr" x="552"/><use href="#gr" x="604"/><use href="#gr" x="656"/><use href="#gr" x="708"/><use href="#rr" x="760"/><use href="#gr" x="812"/></g>
</g>
<g id="string-labels" class="tab">
<text x="30" y="66.3" fill="#fff">C</text>
<text x="30" y="378.3" fill="#fff">A</text>
<text x="30" y="2302.3" fill="#222">B</text>
<text x="866" y="326.3" fill="#222" text-anchor="end">B</text>
<text x="866" y="2250.3" fill="#fff" text-anchor="end">A</text>
<text x="866" y="2562.3" fill="#fff" text-anchor="end">C</text>
</g>
<text x="448.5" y="1342" font-family="'Liberation Sans',Arial,sans-serif" font-weight="bold" font-size="18" text-anchor="middle" textLength="154" lengthAdjust="spacingAndGlyphs" fill="#333" stroke="#fff" stroke-width="0.6" paint-order="stroke">BRACELETBOOK.COM</text>
</svg>
